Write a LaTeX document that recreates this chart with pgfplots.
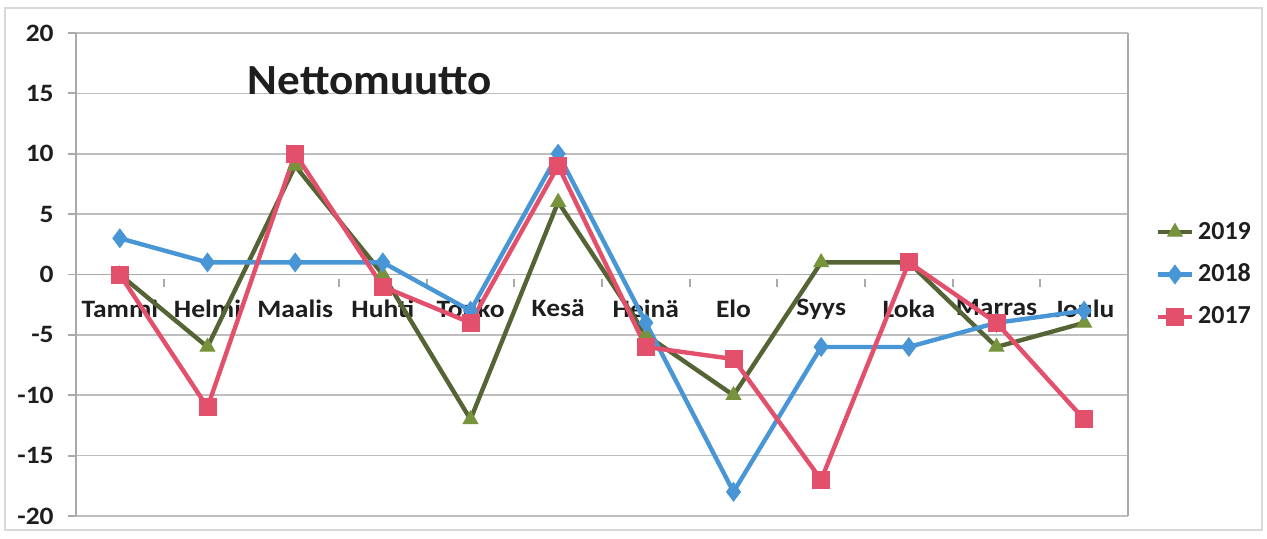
\documentclass[border=0pt]{standalone}
\usepackage{pgfplots}
\pgfplotsset{compat=1.18}
\usepackage{fontspec}
\setmainfont{Carlito}
\definecolor{gridc}{RGB}{190,190,190}
\definecolor{axc}{RGB}{170,170,170}
\definecolor{g19}{RGB}{84,100,52}
\definecolor{g19f}{RGB}{119,147,60}
\definecolor{b18}{RGB}{72,150,214}
\definecolor{r17}{RGB}{226,80,108}
\definecolor{txt}{RGB}{30,30,30}
\begin{document}
\begin{tikzpicture}
\path[use as bounding box] (-38bp,-11.5bp) rectangle (595.5bp,258bp);
\draw[gray!30, line width=0.8bp] (-35.5bp,-7bp) rectangle (593bp,254bp);
\begin{axis}[
  at={(0,0)}, anchor=south west,
  scale only axis, width=526bp, height=241.5bp,
  xmin=-0.5, xmax=11.5, ymin=-20, ymax=20,
  axis x line=middle, axis y line=left,
  axis line style={axc, line width=0.9bp, -},
  xtick={0,...,11},
  xticklabels={Tammi,Helmi,Maalis,Huhti,Touko,Kesä,Heinä,Elo,Syys,Loka,Marras,Joulu},
  major x tick style={draw=none},
  minor xtick={0.5,1.5,...,10.5},
  minor x tick style={axc, line width=0.9bp, yshift=-2bp},
  minor tick length=4bp,
  ytick={-20,-15,...,20},
  yticklabels={-20,-15,-10,-5,0,5,10,15,20},
  major y tick style={axc, line width=0.9bp},
  tick align=outside, major tick length=4bp,
  ymajorgrids, grid style={gridc, line width=0.8bp},
  ticklabel style={font=\fontsize{12.5bp}{14bp}\selectfont\bfseries, text=txt, xscale=1.1},
  xticklabel style={yshift=-5bp},
  yticklabel style={xshift=-3bp},
  legend style={at={(1.026,0.5)}, anchor=west, draw=none, fill=none,
    font=\fontsize{13bp}{14bp}\selectfont\bfseries, text=txt,
    row sep=7bp, inner sep=0pt},
  legend cell align=left,
  clip=false,
]
\draw[axc, line width=0.9bp] (rel axis cs:1,0) -- (rel axis cs:1,1);
\addplot[g19, line width=2.2bp, mark=triangle*, mark size=4.2bp,
  mark options={fill=g19f, draw=g19f, line width=0.5bp}]
  coordinates {(0,0) (1,-6) (2,9) (3,0) (4,-12) (5,6) (6,-5) (7,-10) (8,1) (9,1) (10,-6) (11,-4)};
\addlegendentry{2019}
\addplot[b18, line width=2.2bp, mark=diamond*, mark size=3.2bp,
  mark options={fill=b18, draw=b18}]
  coordinates {(0,3) (1,1) (2,1) (3,1) (4,-3) (5,10) (6,-4) (7,-18) (8,-6) (9,-6) (10,-4) (11,-3)};
\addlegendentry{2018}
\addplot[r17, line width=2.2bp, mark=square*, mark size=3.4bp,
  mark options={fill=r17, draw=r17}]
  coordinates {(0,0) (1,-11) (2,10) (3,-1) (4,-4) (5,9) (6,-6) (7,-7) (8,-17) (9,1) (10,-4) (11,-12)};
\addlegendentry{2017}
\end{axis}
\node[anchor=base, text=txt, font=\fontsize{21.5bp}{24bp}\selectfont\bfseries, xscale=1.05] at (147bp,210.5bp) {Nettomuutto};
\end{tikzpicture}
\end{document}
